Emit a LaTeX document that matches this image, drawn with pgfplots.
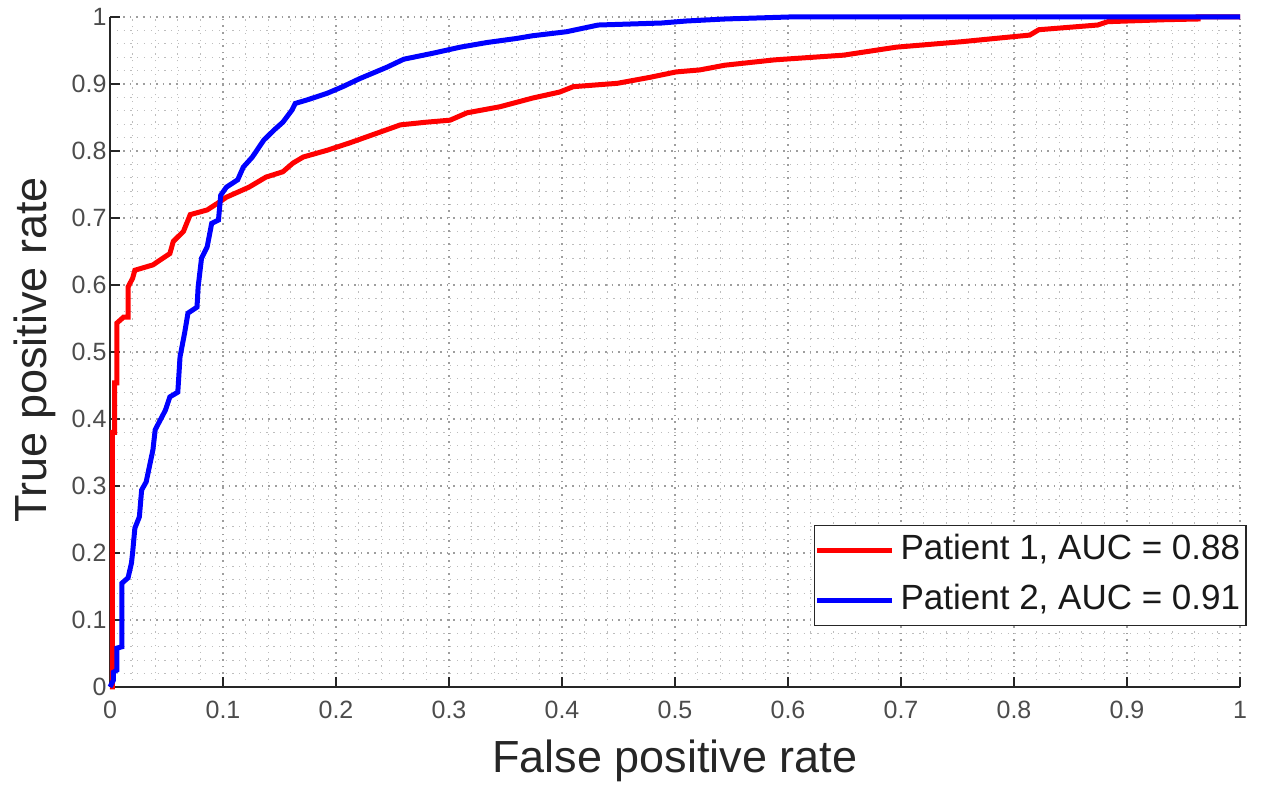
\documentclass[border=0pt]{standalone}
\usepackage{fontspec}
\setmainfont{Liberation Sans}
\usepackage{pgfplots}
\pgfplotsset{compat=1.18}

\definecolor{axgray}{gray}{0.15}
\definecolor{ticklab}{gray}{0.3}
\definecolor{gridmaj}{gray}{0.62}
\definecolor{gridmin}{gray}{0.74}

\begin{document}
\begin{tikzpicture}
\useasboundingbox (-110pt,-107pt) rectangle (1154pt,687pt);
\begin{axis}[
    at={(0pt,0pt)}, anchor=south west,
    scale only axis,
    width=1130pt, height=670pt,
    xmin=0, xmax=1, ymin=0, ymax=1,
    clip=false,
    axis x line*=bottom, axis y line*=left,
    axis line style={line width=2pt, axgray},
    tick align=inside,
    xtick={0,0.1,0.2,0.3,0.4,0.5,0.6,0.7,0.8,0.9,1},
    ytick={0,0.1,0.2,0.3,0.4,0.5,0.6,0.7,0.8,0.9,1},
    minor tick num=4,
    major tick length=10pt, minor tick length=0pt,
    major tick style={line width=2pt, axgray},
    grid=both,
    major grid style={line width=1.6pt, gridmaj, dash pattern=on 1.6pt off 5pt},
    minor grid style={line width=1.3pt, gridmin, dash pattern=on 1.3pt off 5.5pt},
    /pgf/number format/assume math mode=true,
    tick label style={font=\fontsize{25}{29}\selectfont, text=ticklab},
    xticklabel style={yshift=-11pt},
    yticklabel style={xshift=0pt},
    xlabel={False positive rate},
    ylabel={True positive rate},
    label style={font=\fontsize{45}{54}\selectfont, text=axgray},
    xlabel style={at={(axis description cs:0.5,-0.1269)}, anchor=base},
    ylabel style={at={(axis description cs:-0.0558,0.503)}, anchor=base},
    legend cell align=left,
    legend style={at={(rel axis cs:1.006,0.091)}, anchor=south east,
        draw=axgray, line width=1.3pt, fill=white,
        font=\fontsize{35}{40}\selectfont, text=black!90,
        inner xsep=0pt, inner ysep=2pt, row sep=4pt,
        nodes={inner sep=6pt, text height=26pt, text depth=8pt}},
    legend image code/.code={\draw[#1] (0pt,0pt) -- (75pt,0pt);},
]
% Patient 1
\addplot[color=red, line width=5pt] coordinates {
(0,0) (0.002,0.0) (0.002,0.38) (0.004,0.38) (0.004,0.454) (0.006,0.454)
(0.006,0.543) (0.012,0.552) (0.016,0.552) (0.016,0.597) (0.02,0.61)
(0.022,0.622) (0.038,0.63) (0.053,0.647) (0.056,0.665) (0.065,0.68)
(0.071,0.705) (0.086,0.712) (0.097,0.724) (0.103,0.731) (0.123,0.746)
(0.138,0.761) (0.153,0.769) (0.162,0.782) (0.171,0.791) (0.192,0.801)
(0.212,0.812) (0.227,0.821) (0.257,0.839) (0.28,0.843) (0.301,0.846)
(0.316,0.857) (0.345,0.866) (0.374,0.879) (0.398,0.888) (0.41,0.896)
(0.449,0.901) (0.478,0.91) (0.501,0.918) (0.522,0.921) (0.544,0.928)
(0.588,0.936) (0.649,0.943) (0.696,0.955) (0.753,0.963) (0.814,0.973)
(0.822,0.981) (0.874,0.988) (0.883,0.993) (0.935,0.996) (0.963,0.997)
(0.963,1) (1,1)
};
\addlegendentry{Patient 1, AUC = 0.88}
% Patient 2
\addplot[color=blue, line width=5pt] coordinates {
(0,0) (0.003,0.01) (0.003,0.022) (0.006,0.025) (0.006,0.058) (0.0106,0.06)
(0.0106,0.155) (0.016,0.163) (0.019,0.185) (0.02,0.2) (0.022,0.237)
(0.026,0.254) (0.028,0.294) (0.032,0.306) (0.038,0.354) (0.04,0.384)
(0.049,0.413) (0.053,0.433) (0.06,0.44) (0.062,0.493) (0.066,0.528)
(0.069,0.558) (0.077,0.567) (0.078,0.597) (0.081,0.64) (0.086,0.657)
(0.09,0.692) (0.096,0.697) (0.098,0.734) (0.103,0.746) (0.113,0.757)
(0.118,0.776) (0.126,0.791) (0.136,0.816) (0.145,0.831) (0.153,0.843)
(0.161,0.861) (0.164,0.871) (0.174,0.876) (0.192,0.886) (0.206,0.896)
(0.221,0.908) (0.245,0.925) (0.26,0.937) (0.286,0.946) (0.31,0.955)
(0.334,0.962) (0.36,0.968) (0.374,0.972) (0.404,0.978) (0.432,0.988)
(0.488,0.991) (0.51,0.994) (0.544,0.997) (0.601,1) (1,1)
};
\addlegendentry{Patient 2, AUC = 0.91}
\end{axis}
\end{tikzpicture}
\end{document}
